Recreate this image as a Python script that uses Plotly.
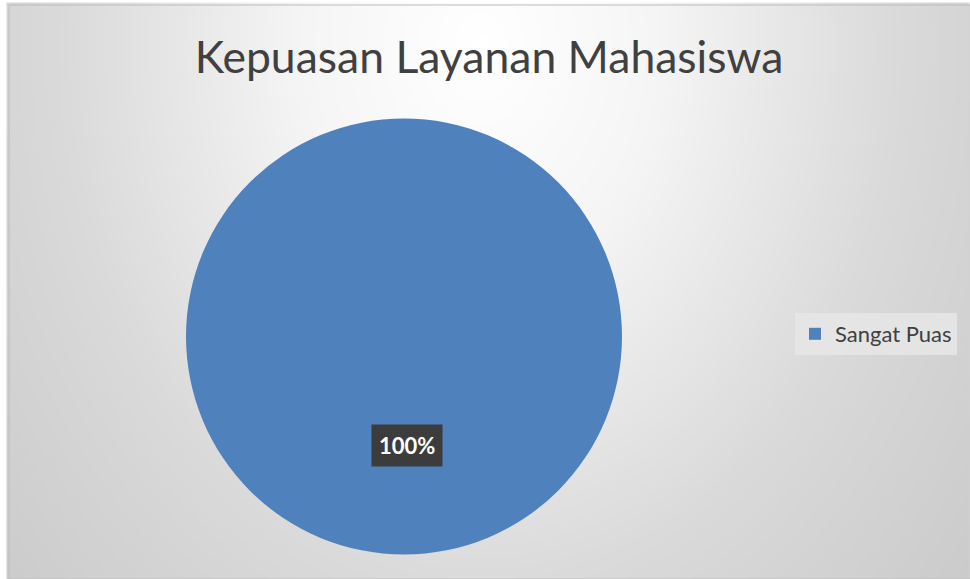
import numpy as np
import plotly.graph_objects as go

# Data
categories = ["Sangat Puas"]
values = [100]
title_text = "Kepuasan Layanan Mahasiswa"

W, H = 970, 579

# background radial gradient (style only), pixel coords from top
xs = np.linspace(9, W, 194)
ys_top = np.linspace(5, H, 116)
X, Y = np.meshgrid(xs, ys_top)
cx, cy = 480, 45
d = np.sqrt((X - cx) ** 2 + ((Y - cy) / 1.3) ** 2)
z = np.clip(d / 650.0, 0, 1)

fig = go.Figure()
fig.add_trace(go.Heatmap(
    x=xs, y=H - ys_top, z=z, showscale=False, hoverinfo="skip",
    colorscale=[[0, "#ffffff"], [0.27, "#f5f5f5"], [0.64, "#dadada"],
                [0.72, "#d6d6d6"], [1, "#cacaca"]],
    zmin=0, zmax=1, xaxis="x", yaxis="y", zsmooth="best",
))

fig.add_trace(go.Pie(
    labels=categories, values=values,
    marker=dict(colors=["#4f81bd"], line=dict(width=0)),
    textinfo="none", sort=False, hoverinfo="label+percent",
    domain=dict(x=[186 / W, 622 / W], y=[1 - 555 / H, 1 - 118 / H]),
    showlegend=True,
))

total = sum(values)
pct_text = f"<b>{values[0] / total * 100:.0f}%</b>"

fig.update_layout(
    width=W, height=H,
    margin=dict(l=0, r=0, t=0, b=0),
    paper_bgcolor="white",
    plot_bgcolor="white",
    xaxis=dict(range=[0, W], visible=False, domain=[0, 1], fixedrange=True),
    yaxis=dict(range=[0, H], visible=False, domain=[0, 1], fixedrange=True),
    title=dict(text=title_text, x=489 / W, xanchor="center", y=1 - 57 / H, yanchor="middle",
               font=dict(family="Lato", size=44.5, color="#404040")),
    legend=dict(x=795 / W, y=1 - 313 / H, xanchor="left", yanchor="top",
                bgcolor="rgba(230,230,230,0.9)", font=dict(family="Lato", size=22, color="#404040"),
                itemwidth=30),
    annotations=[dict(
        text=pct_text, x=407 / W, y=1 - 445 / H, xref="paper", yref="paper",
        xanchor="center", yanchor="middle",
        showarrow=False, font=dict(family="Lato", size=22, color="white"),
        bgcolor="#3c3c3c", borderpad=7,
    )],
    shapes=[dict(type="rect", xref="paper", yref="paper",
                 x0=9 / W, x1=1, y0=0, y1=1 - 5 / H,
                 line=dict(color="#bcbcbc", width=1))],
)

fig.write_html("out.html", config={"displayModeBar": False},
               post_script="document.body.style.margin='0';document.body.style.overflow='hidden';")
